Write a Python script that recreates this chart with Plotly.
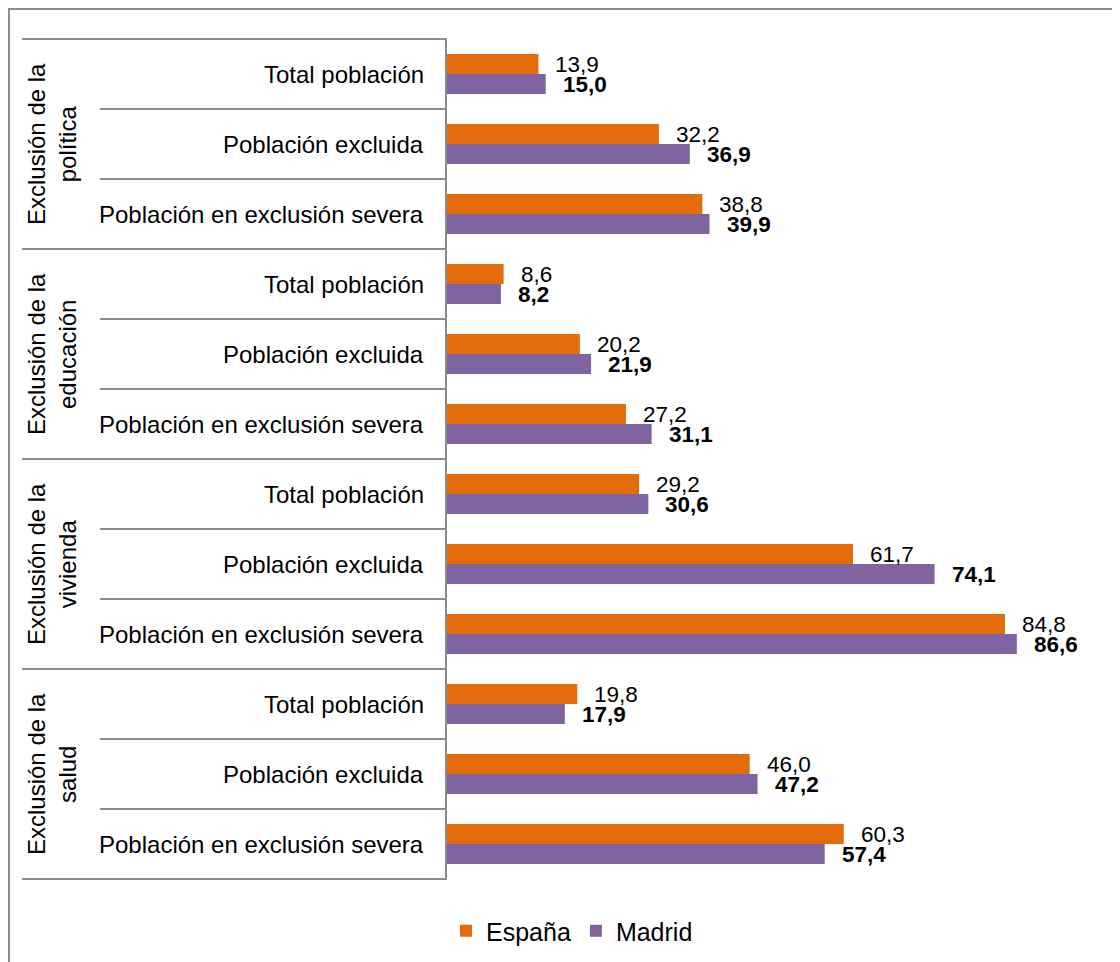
import plotly.graph_objects as go

groups = ["Exclusión de la<br>política", "Exclusión de la<br>educación",
          "Exclusión de la<br>vivienda", "Exclusión de la<br>salud"]
subcats = ["Total población", "Población excluida", "Población en exclusión severa"]
espana = [13.9, 32.2, 38.8, 8.6, 20.2, 27.2, 29.2, 61.7, 84.8, 19.8, 46.0, 60.3]
madrid = [15.0, 36.9, 39.9, 8.2, 21.9, 31.1, 30.6, 74.1, 86.6, 17.9, 47.2, 57.4]
series_names = ["España", "Madrid"]
colors = ["#E46C0A", "#8064A2"]

W, H = 1120, 962
OFF = 8  # page body margin
L, T = 439, 31
PW, PH = 658, 840
R = W - L - PW
B = H - T - PH

def px_x(sx):
    return (sx - OFF - L) / PW

def px_y(sy):
    return (H - B - (sy - OFF)) / PH

FONT = "Arial, Liberation Sans, sans-serif"
n = len(espana)
ys = list(range(n))
fmt = lambda v: f"{v:.1f}".replace(".", ",")

fig = go.Figure()
for name, vals, col in zip(series_names, [espana, madrid], colors):
    fig.add_trace(go.Bar(y=ys, x=vals, orientation="h", name=name,
                         marker=dict(color=col, line=dict(width=0))))

annotations = []
for i, (e, m) in enumerate(zip(espana, madrid)):
    annotations.append(dict(x=e, y=i, xref="x", yref="y", text=fmt(e), showarrow=False,
                            xanchor="left", yanchor="middle", xshift=15, yshift=10,
                            font=dict(family=FONT, size=22.5, color="black")))
    annotations.append(dict(x=m, y=i, xref="x", yref="y", text="<b>" + fmt(m) + "</b>",
                            showarrow=False, xanchor="left", yanchor="middle", xshift=15,
                            yshift=-10, font=dict(family=FONT, size=22.5, color="black")))
    annotations.append(dict(x=px_x(426), y=i, xref="paper", yref="y",
                            text=subcats[i % 3], showarrow=False, xanchor="right",
                            yanchor="middle", font=dict(family=FONT, size=24, color="black")))

for g, gname in enumerate(groups):
    annotations.append(dict(x=px_x(52), y=g * 3 + 1, xref="paper", yref="y", text=gname,
                            showarrow=False, textangle=-90, xanchor="center", yanchor="middle",
                            font=dict(family=FONT, size=24, color="black")))

shapes = []
line_col = "#8c8c8c"
row_h = PH / n
for k in range(n + 1):
    sy = 39 + k * row_h
    x0 = 22 if k % 3 == 0 else 100
    shapes.append(dict(type="line", xref="paper", yref="paper", x0=px_x(x0), x1=0,
                       y0=px_y(sy), y1=px_y(sy), line=dict(color=line_col, width=2)))
# chart border
shapes.append(dict(type="rect", xref="paper", yref="paper", x0=px_x(9), x1=px_x(1160),
                   y0=px_y(1000), y1=px_y(9), line=dict(color=line_col, width=2)))

fig.update_layout(
    width=W, height=H,
    margin=dict(l=L, r=R, t=T, b=B),
    paper_bgcolor="white", plot_bgcolor="white",
    barmode="group", bargap=0.43, bargroupgap=0,
    xaxis=dict(range=[0, 100], visible=False, fixedrange=True),
    yaxis=dict(range=[n - 0.5, -0.5], showticklabels=False, ticks="", showgrid=False,
               zeroline=False, showline=True, linecolor=line_col, linewidth=2),
    annotations=annotations, shapes=shapes,
    showlegend=True,
    legend=dict(orientation="h", x=px_x(446), xanchor="left", y=px_y(931),
                yanchor="middle", font=dict(family=FONT, size=25, color="black"),
                bgcolor="rgba(0,0,0,0)", itemsizing="constant"),
    font=dict(family=FONT, color="black"),
)

fig.write_html("out.html")
